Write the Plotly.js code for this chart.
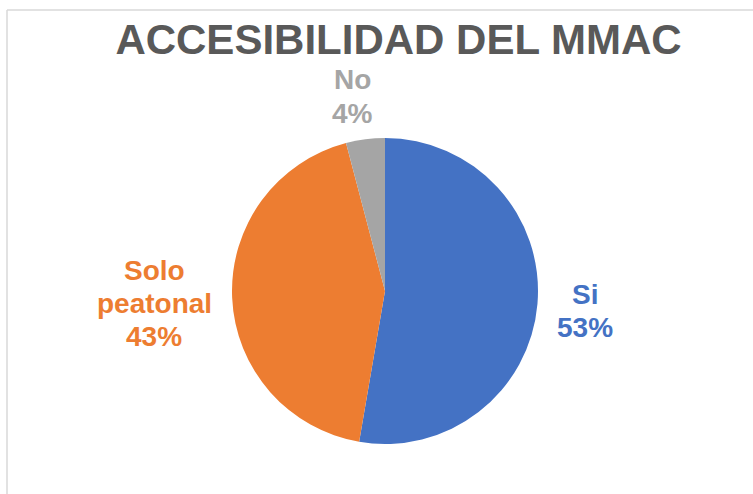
<!DOCTYPE html>
<html>
<head>
<meta charset="utf-8">
<script src="https://cdn.plot.ly/plotly-3.0.1.min.js"></script>
<style>html,body{margin:0;padding:0;background:#fff;}#chart{width:753px;height:494px;}</style>
</head>
<body>
<div id="chart"></div>
<script>
const labels = ['Si', 'Solo peatonal', 'No'];
const labelLines = [['Si'], ['Solo', 'peatonal'], ['No']];
const values = [52.7, 43.2, 4.1];
const colors = ['#4472C4', '#ED7D31', '#A5A5A5'];
const chartTitle = 'ACCESIBILIDAD DEL MMAC';

// label placement: centre x and first-line centre y (pixels in the 753x494 frame)
const labelPos = [[585, 294], [154, 270], [352, 80]];
const lineStep = 33;

const W = 753, H = 494;
const cx = 385, cy = 291, r = 153;

const total = values.reduce((a, b) => a + b, 0);
const annotations = [];
labels.forEach((l, i) => {
  const lines = labelLines[i].concat([Math.round(values[i] / total * 100) + '%']);
  lines.forEach((t, k) => {
    annotations.push({
      text: '<b>' + t + '</b>',
      x: labelPos[i][0] / W, y: 1 - (labelPos[i][1] + k * lineStep) / H,
      xref: 'paper', yref: 'paper', xanchor: 'center', yanchor: 'middle',
      showarrow: false, align: 'center',
      font: {family: 'Liberation Sans, Arial, sans-serif', size: 28, color: colors[i]}
    });
  });
});

const trace = {
  type: 'pie',
  labels: labels,
  values: values,
  marker: {colors: colors, line: {width: 0}},
  sort: false,
  direction: 'clockwise',
  rotation: 0,
  textinfo: 'none',
  hoverinfo: 'label+percent',
  showlegend: false,
  domain: {x: [(cx - r) / W, (cx + r) / W], y: [1 - (cy + r) / H, 1 - (cy - r) / H]}
};

const layout = {
  width: W, height: H,
  margin: {l: 0, r: 0, t: 0, b: 0},
  paper_bgcolor: '#ffffff',
  showlegend: false,
  title: {
    text: '<b>' + chartTitle + '</b>',
    x: 398.5 / W, xanchor: 'center', xref: 'paper',
    y: 1 - 39 / H, yanchor: 'middle', yref: 'container',
    font: {family: 'Liberation Sans, Arial, sans-serif', size: 42, color: '#595959'}
  },
  annotations: annotations,
  shapes: [
    {type: 'line', xref: 'paper', yref: 'paper', x0: 7 / W, x1: 1, y0: 1 - 10 / H, y1: 1 - 10 / H, line: {color: '#D9D9D9', width: 1.5}},
    {type: 'line', xref: 'paper', yref: 'paper', x0: 7 / W, x1: 7 / W, y0: 0, y1: 1 - 10 / H, line: {color: '#D9D9D9', width: 1.5}}
  ]
};

Plotly.newPlot('chart', [trace], layout, {displayModeBar: false, staticPlot: true});
</script>
</body>
</html>
